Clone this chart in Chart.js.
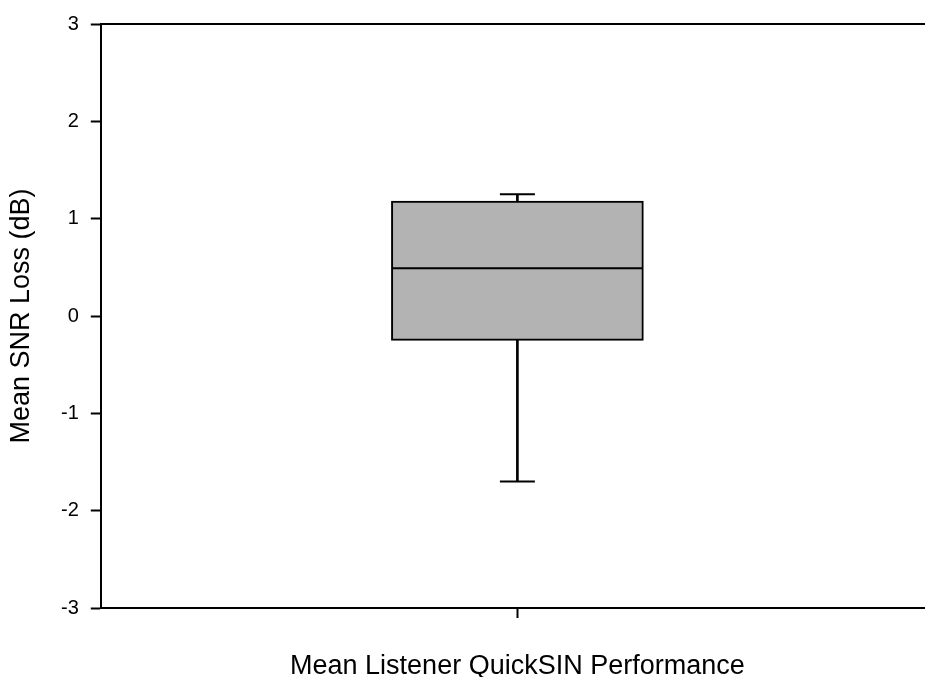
<!DOCTYPE html>
<html>
<head>
<meta charset="utf-8">
<script src="https://cdn.jsdelivr.net/npm/chart.js@4/dist/chart.umd.min.js"></script>
<style>
  html, body { margin: 0; padding: 0; background: #fff; overflow: hidden; }
  #boxChart { display: block; }
</style>
</head>
<body>
<canvas id="boxChart" width="934" height="677"></canvas>
<script>
// box plot summary
const categories = [''];
const lowerWhisker = [-1.70];
const q1 = [-0.25];
const median = [0.49];
const q3 = [1.18];
const upperWhisker = [1.25];
const yTicks = [-3, -2, -1, 0, 1, 2, 3];

const xTitle = 'Mean Listener QuickSIN Performance';
const yTitle = 'Mean SNR Loss (dB)';

window.onload = function () {
    drawBox();
}

function drawBox() {
    let family = '"Liberation Sans", Arial, sans-serif';
    let tickFont = { family: family, size: 20 };
    let titleFont = { family: family, size: 27, lineHeight: 1 };

    let ctx = document.getElementById('boxChart').getContext('2d');
    const boxChart = new Chart(ctx, {
        type: 'bar',
        data: {
            labels: categories,
            datasets: [{
                label: 'box',
                data: categories.map((c, i) => [q1[i], q3[i]]),
                backgroundColor: '#b3b3b3',
                borderColor: '#000',
                borderWidth: 2,
                borderSkipped: false,
                barThickness: 252,
                grouped: false,
                order: 2
            }, {
                label: 'upper whisker',
                data: categories.map((c, i) => [q3[i], upperWhisker[i]]),
                backgroundColor: '#000',
                barThickness: 2,
                grouped: false,
                order: 3
            }, {
                label: 'lower whisker',
                data: categories.map((c, i) => [lowerWhisker[i], q1[i]]),
                backgroundColor: '#000',
                barThickness: 2,
                grouped: false,
                order: 3
            }, {
                type: 'line',
                label: 'median',
                data: median,
                showLine: false,
                pointStyle: 'line',
                pointRadius: 125,
                pointBorderWidth: 2,
                pointBorderColor: '#000',
                order: 1
            }, {
                type: 'line',
                label: 'upper cap',
                data: upperWhisker,
                showLine: false,
                pointStyle: 'line',
                pointRadius: 17.5,
                pointBorderWidth: 2,
                pointBorderColor: '#000',
                order: 1
            }, {
                type: 'line',
                label: 'lower cap',
                data: lowerWhisker,
                showLine: false,
                pointStyle: 'line',
                pointRadius: 17.5,
                pointBorderWidth: 2,
                pointBorderColor: '#000',
                order: 1
            }]
        },
        options: {
            responsive: false,
            animation: false,
            layout: {
                autoPadding: false,
                padding: { top: 23, right: 0, bottom: 0, left: 0 }
            },
            plugins: {
                legend: { display: false },
                tooltip: { enabled: false }
            },
            scales: {
                x: {
                    position: 'bottom',
                    offset: true,
                    grid: {
                        offset: false,
                        drawOnChartArea: false,
                        drawTicks: true,
                        tickLength: 10,
                        tickWidth: 2,
                        tickColor: '#000'
                    },
                    border: { color: '#000', width: 2 },
                    ticks: { display: false },
                    title: {
                        display: true,
                        text: xTitle,
                        color: '#000',
                        font: titleFont,
                        padding: { top: 35, bottom: -3 }
                    }
                },
                xTop: {
                    position: 'top',
                    offset: true,
                    grid: { drawOnChartArea: false, drawTicks: false },
                    border: { color: '#000', width: 2 },
                    ticks: { display: false }
                },
                y: {
                    min: yTicks[0],
                    max: yTicks[yTicks.length - 1],
                    afterBuildTicks: function (axis) {
                        axis.ticks = yTicks.map(v => ({ value: v }));
                    },
                    grid: {
                        drawOnChartArea: false,
                        drawTicks: true,
                        tickLength: 10,
                        tickWidth: 2,
                        tickColor: '#000'
                    },
                    border: { color: '#000', width: 2 },
                    ticks: { color: '#000', font: tickFont, padding: 12 },
                    title: {
                        display: true,
                        text: yTitle,
                        color: '#000',
                        font: titleFont,
                        padding: { top: 8, bottom: 14 }
                    }
                }
            }
        }
    });
}
</script>
</body>
</html>
